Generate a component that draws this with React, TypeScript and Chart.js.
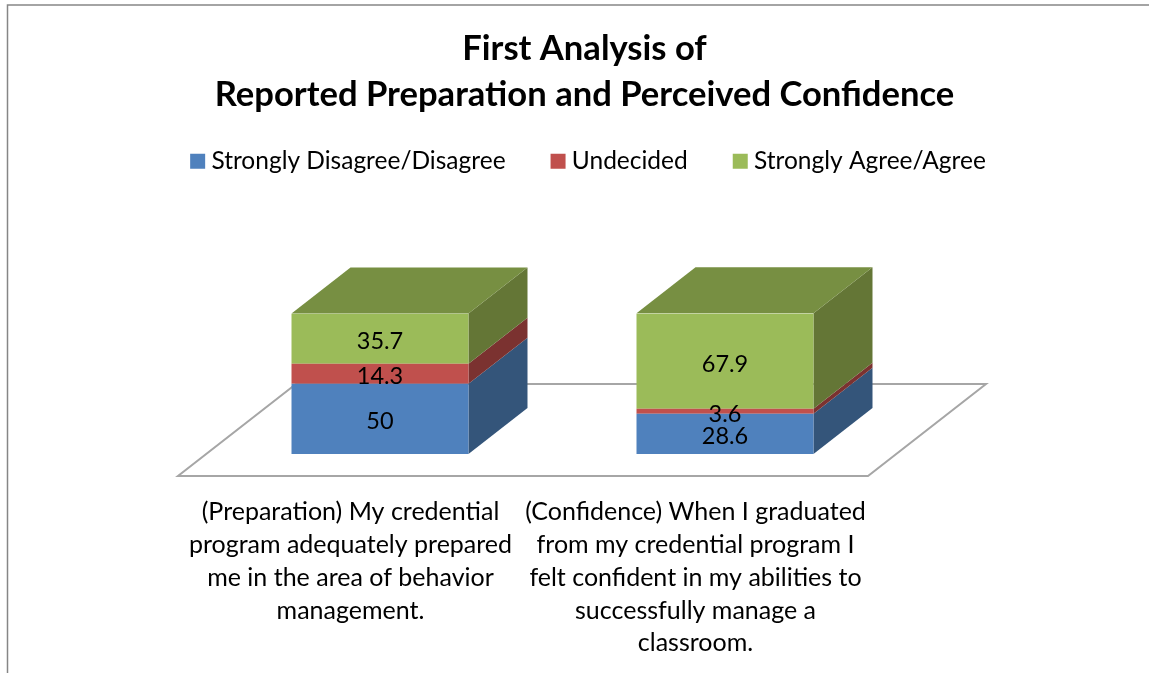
import React, { useEffect, useRef } from "react";
import { Chart, registerables } from "chart.js";

Chart.register(...registerables);

const titleLines = ["First Analysis of", "Reported Preparation and Perceived Confidence"];
const categories = [
  ["(Preparation) My credential", "program adequately prepared", "me in the area of behavior", "management."],
  ["(Confidence) When I graduated", "from my credential program I", "felt confident in my abilities to", "successfully manage a", "classroom."],
];
const seriesNames = ["Strongly Disagree/Disagree", "Undecided", "Strongly Agree/Agree"];
const disagreeValues = [50, 28.6];
const undecidedValues = [14.3, 3.6];
const agreeValues = [35.7, 67.9];
const frontColors = ["#4F81BD", "#C0504D", "#9BBB59"];
const sideColors = ["#34557A", "#7B3230", "#647636"];
const topColor = "#778F42";
const FONT = "Lato";
const DX = 59;
const DY = -46;
const LEGEND_SHIFT = 6.5;

const box3d = {
  id: "box3d",
  beforeLayout(chart: any) {
    const l = chart.legend;
    if (l && !l.__wrapped) {
      l.__wrapped = true;
      const fit = l.fit;
      l.fit = function () {
        fit.call(this);
        this.height = 313.5 - (chart.titleBlock ? chart.titleBlock.height : 0);
      };
    }
  },
  afterLayout(chart: any) {
    const l = chart.legend;
    if (l) {
      l.left += LEGEND_SHIFT;
      l.right += LEGEND_SHIFT;
    }
  },
  beforeDatasetsDraw(chart: any) {
    const { ctx, scales } = chart;
    const x = scales.x;
    const yb = scales.y.getPixelForValue(0);
    ctx.save();
    // chart frame
    ctx.strokeStyle = "#868686";
    ctx.lineWidth = 1.5;
    ctx.beginPath();
    ctx.moveTo(7.5, chart.height);
    ctx.lineTo(7.5, 5);
    ctx.lineTo(chart.width, 5);
    ctx.stroke();
    // floor
    const l = x.left - DX / 2;
    const r = x.right - DX / 2;
    const f = yb + 22;
    ctx.strokeStyle = "#A6A6A6";
    ctx.lineWidth = 2;
    ctx.beginPath();
    ctx.moveTo(l, f);
    ctx.lineTo(r, f);
    ctx.lineTo(r + 2 * DX, f + 2 * DY);
    ctx.lineTo(l + 2 * DX, f + 2 * DY);
    ctx.closePath();
    ctx.stroke();
    // side and top faces
    const metas = chart.getSortedVisibleDatasetMetas();
    metas.forEach((m: any, d: number) => {
      m.data.forEach((el: any) => {
        const rx = el.x + el.width / 2;
        ctx.fillStyle = sideColors[d];
        ctx.beginPath();
        ctx.moveTo(rx, el.y);
        ctx.lineTo(rx + DX, el.y + DY);
        ctx.lineTo(rx + DX, el.base + DY);
        ctx.lineTo(rx, el.base);
        ctx.closePath();
        ctx.fill();
        if (d === metas.length - 1) {
          const lx = el.x - el.width / 2;
          ctx.fillStyle = topColor;
          ctx.beginPath();
          ctx.moveTo(lx, el.y);
          ctx.lineTo(lx + DX, el.y + DY);
          ctx.lineTo(rx + DX, el.y + DY);
          ctx.lineTo(rx, el.y);
          ctx.closePath();
          ctx.fill();
        }
      });
    });
    ctx.restore();
  },
  afterDatasetsDraw(chart: any) {
    const { ctx } = chart;
    ctx.save();
    ctx.fillStyle = "#000";
    ctx.font = `23.5px ${FONT}`;
    ctx.textAlign = "center";
    ctx.textBaseline = "middle";
    chart.getSortedVisibleDatasetMetas().forEach((m: any, d: number) => {
      m.data.forEach((el: any, i: number) => {
        const v = chart.data.datasets[d].data[i];
        ctx.fillText(String(v), el.x, (el.y + el.base) / 2 + 3);
      });
    });
    ctx.restore();
  },
};

export default function App() {
  const ref = useRef<HTMLCanvasElement>(null);
  useEffect(() => {
    const chart = new Chart(ref.current as any, {
      type: "bar",
      data: {
        labels: categories as any,
        datasets: [disagreeValues, undecidedValues, agreeValues].map((data, i) => ({
          label: seriesNames[i],
          data,
          backgroundColor: frontColors[i],
          borderWidth: 0,
          categoryPercentage: 1,
          barPercentage: 0.513,
        })),
      },
      options: {
        responsive: false,
        animation: false,
        layout: { padding: 0 },
        scales: {
          x: {
            stacked: true,
            grid: { display: false },
            border: { display: false },
            afterFit: (s: any) => { s.height = 673 - 454; },
            ticks: {
              autoSkip: false,
              maxRotation: 0,
              minRotation: 0,
              labelOffset: -29.5,
              padding: 34,
              color: "#000",
              font: { family: FONT, size: 25, lineHeight: "32.75px" as any },
            },
          },
          y: {
            stacked: true,
            min: 0,
            max: 100,
            grid: { display: false },
            border: { display: false },
            ticks: { display: false },
            afterFit: (s: any) => { s.width = 207.5; },
          },
          yRight: {
            position: "right",
            grid: { display: false },
            border: { display: false },
            ticks: { display: false },
            afterFit: (s: any) => { s.width = 271.5; },
          },
        },
        plugins: {
          tooltip: { enabled: false },
          title: {
            display: true,
            text: titleLines,
            color: "#000",
            font: { family: FONT, size: 34.6, weight: "bold", lineHeight: "46px" as any },
            padding: { top: 26, bottom: -20 },
          },
          legend: {
            display: true,
            position: "top",
            labels: {
              color: "#000",
              font: { family: FONT, size: 24.5 },
              boxWidth: 3,
              boxHeight: 3,
              padding: 51,
              generateLabels: (c: any) =>
                Chart.defaults.plugins.legend.labels.generateLabels(c).map((it: any) => ({
                  ...it,
                  lineWidth: 12,
                  strokeStyle: it.fillStyle,
                  lineJoin: "miter",
                })),
            },
          },
        },
      },
      plugins: [box3d],
    } as any);
    return () => chart.destroy();
  }, []);
  return (
    <div style={{ position: "absolute", left: 0, top: 0, width: 1149, height: 673, overflow: "hidden", background: "#fff" }}>
      <canvas ref={ref} width={1169} height={673} style={{ display: "block" }} />
    </div>
  );
}
